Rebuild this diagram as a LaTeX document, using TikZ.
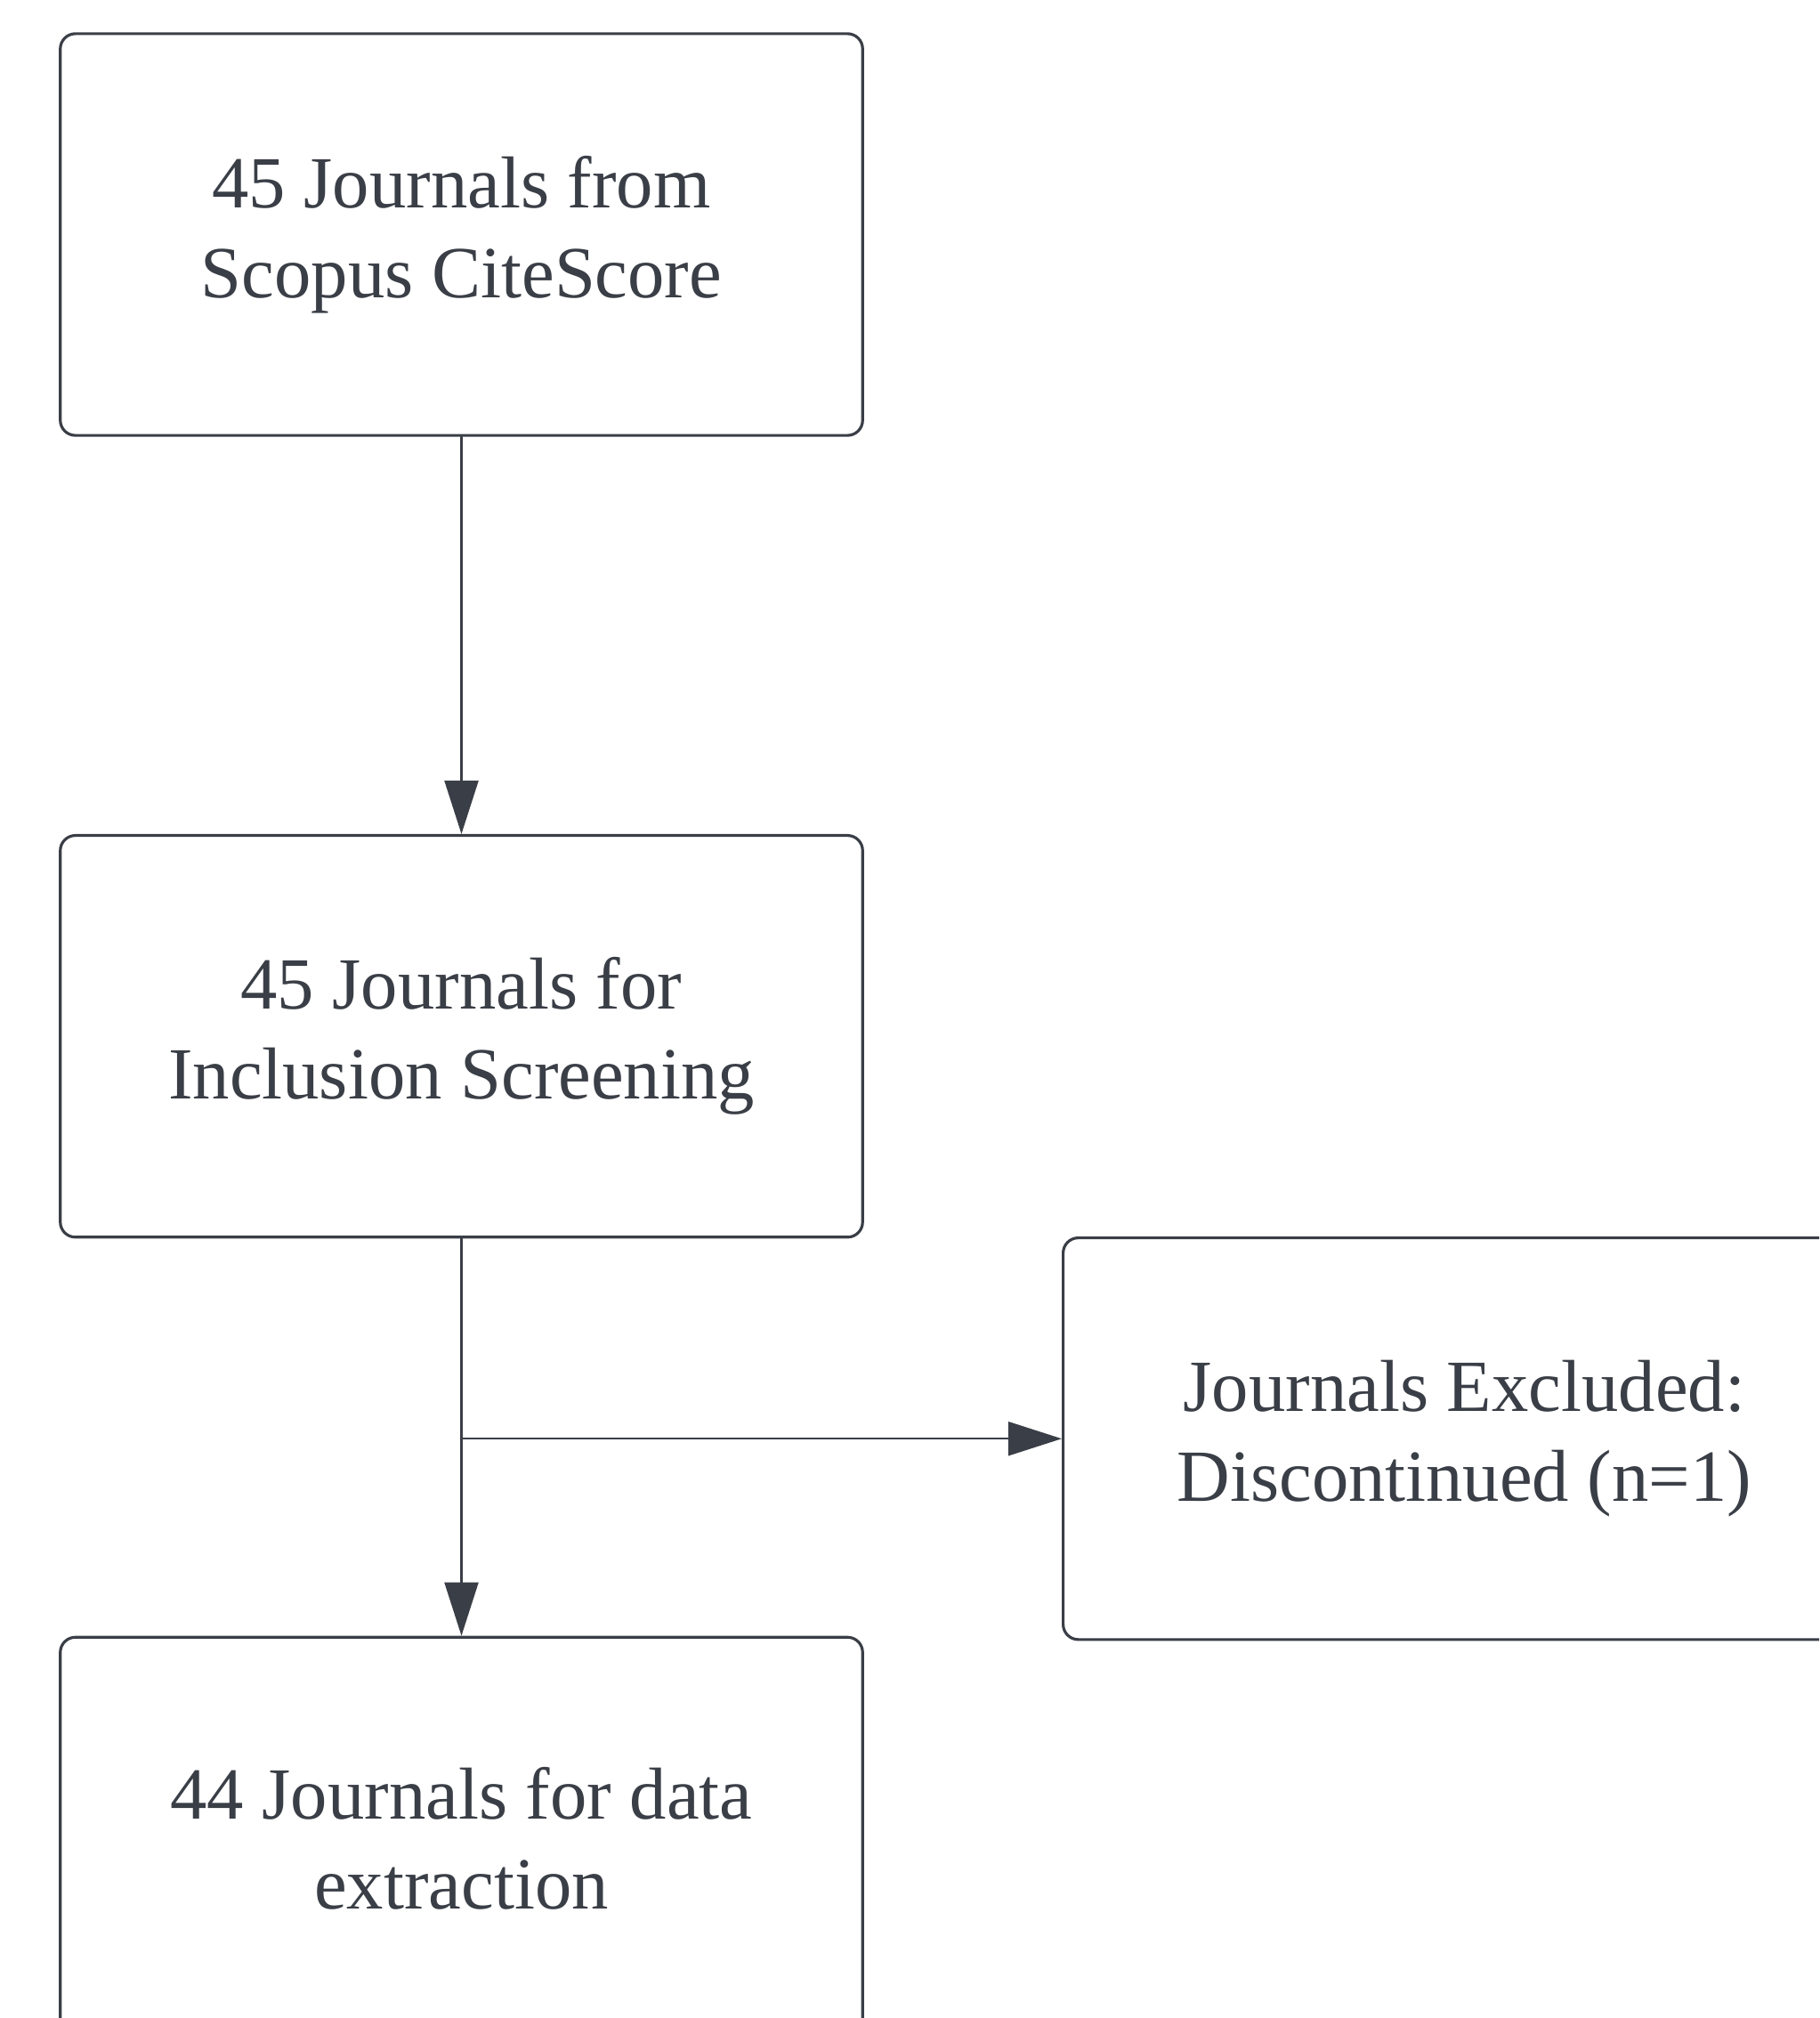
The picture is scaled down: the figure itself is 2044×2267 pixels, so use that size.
\documentclass[tikz,border=0pt]{standalone}
\usepackage{fontspec}
\setmainfont{Liberation Serif}
\usetikzlibrary{positioning,arrows.meta}

\begin{document}
\begin{tikzpicture}
[x=0.01cm,y=-0.01cm,line cap=round,
% Styles
stage box/.style={draw=boxcolor,line width=0.9pt,rounded corners=0.17cm,
  minimum width=9.01cm,minimum height=4.51cm,align=center,text=boxcolor,
  font=\fontsize{23.5}{28.7}\selectfont},
flow line/.style={draw=boxcolor,line width=0.6pt,
  -{Triangle[length=0.6cm,width=0.38cm]}}]
% Colors
\definecolor{boxcolor}{RGB}{58,62,70}
% The graphic
\clip (0,0) rectangle (2044,2267);
\node[stage box] (scopus) at (518.5,263.5) {45 Journals from\\Scopus CiteScore};
\node[stage box,below=4.46cm of scopus] (screening) {45 Journals for\\Inclusion Screening};
\node[stage box,below=4.46cm of screening] (extraction) {44 Journals for data\\extraction};
\node[stage box,anchor=north west] (excluded) at (1193,1389)
  {Journals Excluded:\\Discontinued (n=1)};
\coordinate (branch) at (screening.south |- excluded.west);
\draw[flow line] (scopus) -- (screening);
\draw[flow line] (screening) -- (extraction);
\draw[flow line] (branch) -- (excluded);
\end{tikzpicture}
\end{document}
